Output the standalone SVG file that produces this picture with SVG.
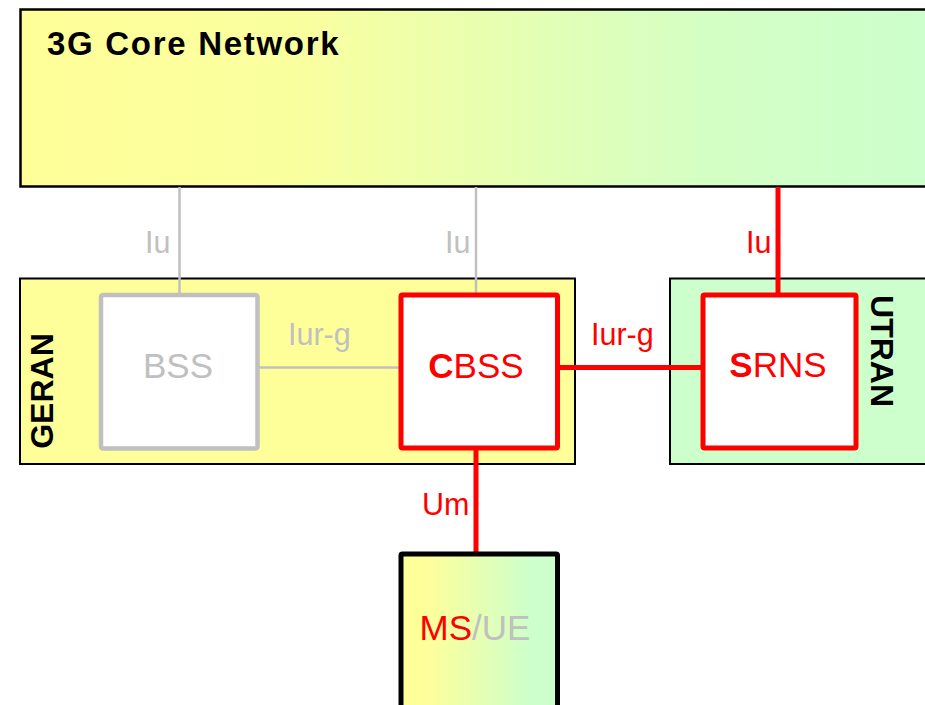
<svg xmlns="http://www.w3.org/2000/svg" width="925" height="705" viewBox="0 0 925 705">
<defs>
<linearGradient id="gCore" x1="20" y1="0" x2="930" y2="0" gradientUnits="userSpaceOnUse">
<stop offset="0" stop-color="#FFFF99"/>
<stop offset="0.3" stop-color="#FAFF9E"/>
<stop offset="0.75" stop-color="#D4FFC4"/>
<stop offset="1" stop-color="#CCFFCC"/>
</linearGradient>
<linearGradient id="gMs" x1="401" y1="0" x2="557" y2="0" gradientUnits="userSpaceOnUse">
<stop offset="0" stop-color="#FFFF99"/>
<stop offset="0.15" stop-color="#FFFF99"/>
<stop offset="0.85" stop-color="#CCFFCC"/>
<stop offset="1" stop-color="#CCFFCC"/>
</linearGradient>
</defs>
<style>
text{font-family:"Liberation Sans",Arial,sans-serif;}
.title{font-size:32px;font-weight:bold;fill:#000;}
.main{font-size:33px;letter-spacing:1.7px;}
.node{font-size:35px;text-anchor:middle;}
.lbl{font-size:30.5px;}
.red{fill:#FF0000;}
.gray{fill:#C0C0C0;}
.b{font-weight:bold;}
.grayLine{stroke:#C0C0C0;stroke-width:2.5;fill:none;}
.redLine{stroke:#FF0000;stroke-width:5;fill:none;}
</style>
<rect width="925" height="705" fill="#FFFFFF"/>
<g id="core">
<rect x="20.5" y="9.5" width="920" height="177" fill="url(#gCore)" stroke="#000" stroke-width="2.5"/>
<text class="title main" x="47" y="55">3G Core Network</text>
</g>
<g id="geran">
<rect x="20" y="278.5" width="555" height="185.5" fill="#FFFF99" stroke="#000" stroke-width="2"/>
<text class="title" text-anchor="middle" transform="translate(53,391) rotate(-90)">GERAN</text>
</g>
<g id="utran">
<rect x="670" y="278.5" width="270" height="185.5" fill="#CCFFCC" stroke="#000" stroke-width="2"/>
<text class="title" text-anchor="middle" transform="translate(871,351) rotate(90)">UTRAN</text>
</g>
<g id="connectors">
<line class="grayLine" x1="179.5" y1="187" x2="179.5" y2="294"/>
<line class="grayLine" x1="476" y1="187" x2="476" y2="294"/>
<line class="grayLine" x1="258" y1="367.5" x2="401" y2="367.5"/>
<line class="redLine" x1="778" y1="187" x2="778" y2="295"/>
<line class="redLine" x1="557" y1="367.5" x2="703" y2="367.5"/>
<line class="redLine" x1="476" y1="448" x2="476" y2="554"/>
<text class="lbl gray" x="145" y="253">Iu</text>
<text class="lbl gray" x="445" y="253">Iu</text>
<text class="lbl red" x="746" y="253">Iu</text>
<text class="lbl gray" x="288" y="345">Iur-g</text>
<text class="lbl red" x="591" y="345">Iur-g</text>
<text class="lbl red" x="422" y="515">Um</text>
</g>
<g id="bss">
<rect x="101" y="295" width="156.5" height="153.5" rx="2" fill="#FFFFFF" stroke="#C0C0C0" stroke-width="4.5"/>
<text class="node gray" x="178" y="378">BSS</text>
</g>
<g id="cbss">
<rect x="401" y="295" width="156.5" height="153" rx="1.5" fill="#FFFFFF" stroke="#FF0000" stroke-width="5"/>
<text class="node red" x="476" y="378"><tspan class="b">C</tspan>BSS</text>
</g>
<g id="srns">
<rect x="703" y="295" width="153" height="153" rx="1.5" fill="#FFFFFF" stroke="#FF0000" stroke-width="5"/>
<text class="node red" x="778" y="377"><tspan class="b">S</tspan>RNS</text>
</g>
<g id="msue">
<rect x="401" y="554" width="156.5" height="170" rx="1.5" fill="url(#gMs)" stroke="#000" stroke-width="5"/>
<text class="node" x="475" y="640"><tspan class="red">MS</tspan><tspan class="gray">/UE</tspan></text>
</g>
</svg>
